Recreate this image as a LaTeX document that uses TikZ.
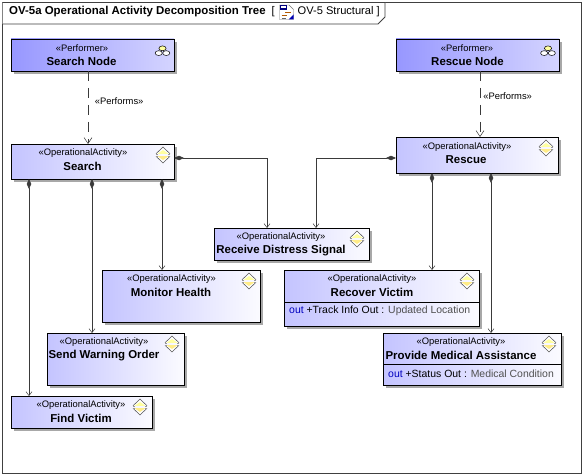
\documentclass[tikz,border=0pt]{standalone}
\usepackage{fontspec}
\setmainfont{Liberation Sans}
\usetikzlibrary{arrows.meta,calc,positioning}
\definecolor{perfA}{HTML}{9797FF}
\definecolor{perfB}{HTML}{D4D4FF}
\definecolor{actA}{HTML}{C4C4FF}
\definecolor{actB}{HTML}{FBFBFF}
\definecolor{shadowc}{HTML}{A8A8A8}
\definecolor{edgec}{HTML}{3A3A3A}
\definecolor{greytxt}{HTML}{505050}
\definecolor{iconY}{HTML}{FFFFA0}
\tikzset{
  x=1pt,y=-1pt,
  boxbase/.style={draw=black,line width=0.9pt,anchor=north west,inner sep=0pt,outer sep=0pt},
  perfbox/.style={boxbase,left color=perfA,right color=perfB},
  actbox/.style={boxbase,left color=actA,right color=actB},
  shadowbox/.style={fill=shadowc,draw=none},
  stereo/.style={font=\fontsize{9.4}{10}\selectfont,inner sep=0pt},
  title/.style={font=\fontsize{11.45}{12}\selectfont\bfseries,inner sep=0pt},
  comp/.style={edgec,line width=0.7pt,{Diamond[length=10pt,width=4.5pt]}-{Straight Barb[length=4pt,width=6pt,line width=0.5pt]}},
  dep/.style={edgec,line width=0.7pt,dash pattern=on 10pt off 7pt,-{Straight Barb[length=6pt,width=8pt,line width=0.5pt]}},
  edgelabel/.style={font=\fontsize{9.4}{10}\selectfont,inner sep=0pt,text=black},
  prop/.style={font=\fontsize{10.45}{11}\selectfont,inner sep=0pt,anchor=west},
}
\newcommand{\mybox}[6]{% name, style, x1, y1, x2, y2
  \fill[shadowbox] ($(#3,#4)+(3,3)$) rectangle ($(#5,#6)+(3,3)$);
  \node[#2,minimum width=#5pt-#3pt,minimum height=#6pt-#4pt] (#1) at (#3,#4) {};
}
\newcommand{\perficon}[2]{%
  \begin{scope}[shift={(#1,#2)},line width=0.5pt]
    \draw[fill=white] (-3.8,2.6) ellipse (3.6 and 2.4);
    \draw[fill=white] (3.8,2.6) ellipse (3.6 and 2.4);
    \draw[fill=iconY] (0,-2.2) ellipse (3.6 and 2.4);
  \end{scope}}
\newcommand{\acticon}[2]{%
  \begin{scope}[shift={(#1,#2)},line width=0.55pt]
    \fill[white] (-7,-1.2) -- (0,-8) -- (7,-1.2) -- cycle;
    \fill[iconY] (-5.5,-1.2) -- (0,-5) -- (5.5,-1.2) -- cycle;
    \fill[white] (-7,1.2) -- (0,8) -- (7,1.2) -- cycle;
    \fill[iconY!85!orange] (-5.5,1.2) -- (0,5) -- (5.5,1.2) -- cycle;
    \draw[black!65] (-7,-1.2) -- (0,-8) -- (7,-1.2);
    \draw[black!65] (-7,1.2) -- (0,8) -- (7,1.2);
    \draw[black!40] (-7,-1.2) -- (-5,-1.2) (7,-1.2) -- (5,-1.2) (-7,1.2) -- (-5,1.2) (7,1.2) -- (5,1.2);
  \end{scope}}
\begin{document}
\begin{tikzpicture}
\useasboundingbox (0,0) rectangle (583,476);
\fill[white] (0,0) rectangle (583,476);
% frame
\draw[black!75,line width=0.9pt] (2.5,2.5) rectangle (581,473.5);
\fill[white] (2.5,2.5) -- (385,2.5) -- (385,17) -- (378,24) -- (2.5,24) -- cycle;
\draw[black!75,line width=0.9pt] (2.5,2.5) -- (385,2.5) -- (385,17) -- (378,24) -- (2.5,24);
\node[title,anchor=west] (frametitle) at (9,12) {OV-5a Operational Activity Decomposition Tree};
\node[font=\fontsize{11.1}{12}\selectfont,inner sep=0pt,anchor=west] (bropen) at (271.5,12) {[};
\begin{scope}[line width=0.4pt]
  \draw[fill=white,draw=black!55] (279.5,5) -- (289,5) -- (293.5,9.5) -- (293.5,19.5) -- (279.5,19.5) -- cycle;
  \fill[blue!50!black] (279.5,5) rectangle (287,10);
  \fill[white] (281,6.5) rectangle (285.5,8.5);
  \draw[orange!70!black,line width=0.9pt] (285,12.5) -- (291,12.5) (281.5,15) -- (287,15);
  \draw[black!60,line width=0.9pt] (281.5,18) -- (286,18);
  \fill[blue!70!black] (288.5,19.5) -- (293.5,19.5) -- (293.5,14.5) -- cycle;
\end{scope}
\node[font=\fontsize{11.1}{12}\selectfont,inner sep=0pt,anchor=west] (frametype) at (297.5,12) {OV-5 Structural ]};

% boxes
\mybox{searchnode}{perfbox}{11}{39}{174}{71}
\mybox{rescuenode}{perfbox}{396}{39}{559}{71}
\mybox{search}{actbox}{11}{144}{174}{179}
\mybox{rescue}{actbox}{396}{137}{558}{173}
\mybox{receive}{actbox}{214}{228}{369}{260}
\mybox{monitor}{actbox}{102}{270}{260}{322}
\mybox{recover}{actbox}{284}{270}{479}{326}
\mybox{send}{actbox}{47}{333}{184}{385}
\mybox{provide}{actbox}{383}{333}{561}{385}
\mybox{find}{actbox}{11}{396}{152}{428}

% dividers
\draw[black,line width=0.8pt] (284,302) -- (479,302) coordinate (recdiv);
\draw[black,line width=0.8pt] (383,364) -- (561,364) coordinate (prodiv);

% texts
\node[stereo] (t1a) at (82,48.5) {«Performer»};
\node[title] (t1b) at (81.5,61.5) {Search Node};
\node[stereo] (t2a) at (467,48.5) {«Performer»};
\node[title] (t2b) at (467.5,61.5) {Rescue Node};
\node[stereo] (t3a) at (83,153.5) {«OperationalActivity»};
\node[title] (t3b) at (82.5,166.5) {Search};
\node[stereo] (t4a) at (467,147) {«OperationalActivity»};
\node[title] (t4b) at (466,160) {Rescue};
\node[stereo] (t5a) at (281,237.5) {«OperationalActivity»};
\node[title] (t5b) at (281,250.5) {Receive Distress Signal};
\node[stereo] (t6a) at (171.5,279.5) {«OperationalActivity»};
\node[title] (t6b) at (171,292.5) {Monitor Health};
\node[stereo] (t7a) at (372,279.5) {«OperationalActivity»};
\node[title] (t7b) at (372,292.5) {Recover Victim};
\node[stereo] (t8a) at (104,342.5) {«OperationalActivity»};
\node[title] (t8b) at (104,355.5) {Send Warning Order};
\node[stereo] (t9a) at (461,342.5) {«OperationalActivity»};
\node[title] (t9b) at (461,355.5) {Provide Medical Assistance};
\node[stereo] (t10a) at (81,405.5) {«OperationalActivity»};
\node[title] (t10b) at (81,418.5) {Find Victim};
\node[prop] (p1) at (289,311) {\textcolor{blue!75!black}{out} +Track Info Out : \textcolor{greytxt}{Updated Location}};
\node[prop] (p2) at (388,373.5) {\textcolor{blue!75!black}{out} +Status Out : \textcolor{greytxt}{Medical Condition}};

% icons
\perficon{162.5}{50.5}
\perficon{548}{50.5}
\acticon{163}{155}
\acticon{546}{148}
\acticon{357}{239}
\acticon{249}{281}
\acticon{467}{281}
\acticon{172}{344}
\acticon{549}{344}
\acticon{140}{407}

% connectors
\coordinate (a1) at ($(searchnode.south west)+(77,0)$);
\coordinate (a2) at ($(rescuenode.south west)+(84,0)$);
\draw[dep] (a1) -- (a1 |- search.north) node[pos=0.41,right=6.5pt,edgelabel] (l1) {«Performs»};
\draw[dep] (a2) -- (a2 |- rescue.north) node[pos=0.38,right=3pt,edgelabel] (l2) {«Performs»};

\coordinate (s0) at ($(search.north east)+(0,14)$);
\coordinate (s1) at ($(search.south west)+(18,0)$);
\coordinate (s2) at ($(search.south west)+(81,0)$);
\coordinate (s3) at ($(search.south west)+(151,0)$);
\coordinate (r0) at ($(rescue.north west)+(0,21)$);
\coordinate (r1) at ($(rescue.south west)+(36,0)$);
\coordinate (r2) at ($(rescue.south west)+(95,0)$);
\coordinate (rv1) at ($(receive.north west)+(53,0)$);
\coordinate (rv2) at ($(receive.north west)+(102,0)$);
\draw[comp] (s0) -| (rv1);
\draw[comp] (r0) -| (rv2);
\draw[comp] (s1) -- (s1 |- find.north);
\draw[comp] (s2) -- (s2 |- send.north);
\draw[comp] (s3) -- (s3 |- monitor.north);
\draw[comp] (r1) -- (r1 |- recover.north);
\draw[comp] (r2) -- (r2 |- provide.north);
\end{tikzpicture}
\end{document}
